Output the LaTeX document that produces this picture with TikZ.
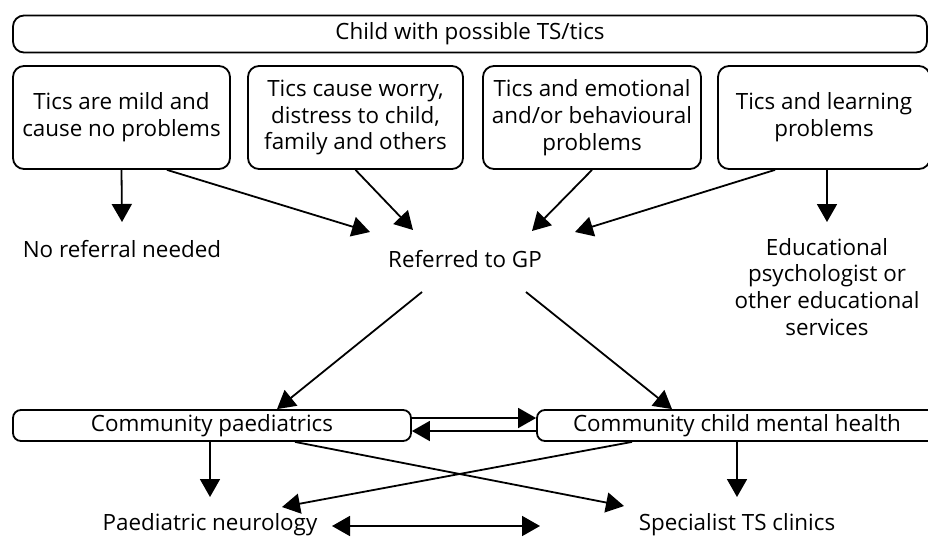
\documentclass[tikz,border=0pt]{standalone}
\usepackage{fontspec}
\setmainfont{Open Sans}
\usetikzlibrary{arrows.meta,positioning}

\begin{document}
\begin{tikzpicture}[x=1pt, y=-1pt,
  box/.style={rectangle, rounded corners=11pt, draw, line width=1.8pt,
              align=center, inner sep=0pt, font=\fontsize{22.4}{26.7}\selectfont},
  flat/.style={rectangle, rounded corners=8pt, draw, line width=1.8pt,
               inner sep=0pt, minimum height=31pt, font=\fontsize{22.4}{26.7}\selectfont},
  txt/.style={align=center, inner sep=0pt, font=\fontsize{22.4}{26.7}\selectfont},
  arr/.style={line width=1.8pt, -{Triangle[length=18pt,width=20pt]}},
  arrs/.style={line width=1.8pt, {Triangle[length=18pt,width=20pt]}-{Triangle[length=18pt,width=20pt]}}]
\useasboundingbox (0,0) rectangle (928,536);
\node[box, minimum width=914pt, minimum height=37pt] (child) at (470,34)
  {Child with possible TS/tics};
\node[box, minimum width=217pt, minimum height=103pt] (mild) at (121.5,117.5)
  {Tics are mild and\\cause no problems};
\node[box, minimum width=215pt, minimum height=103pt] (worry) at (355.5,117.5)
  {Tics cause worry,\\distress to child,\\family and others};
\node[box, minimum width=218pt, minimum height=103pt] (emot) at (592,117.5)
  {Tics and emotional\\and/or behavioural\\problems};
\node[box, minimum width=212pt, minimum height=103pt] (learn) at (824,117.5)
  {Tics and learning\\problems};
\node[txt, anchor=base] (noref) at (122,257) {No referral needed};
\node[txt, anchor=base] (gp) at (465,267) {Referred to GP};
\node[txt, anchor=north] (educ) at (827,238)
  {Educational\\psychologist or\\other educational\\services};
\node[flat, minimum width=398pt] (cp) at (212,425.5) {Community paediatrics};
\node[flat, minimum width=400pt] (cm) at (737,425.5) {Community child mental health};
\node[txt, anchor=base] (pn) at (210,530) {Paediatric neurology};
\node[txt, anchor=base] (stc) at (737,530) {Specialist TS clinics};
% into the GP
\draw[arr] (mild.south) -- ([yshift=35pt]noref.base);
\draw[arr] ([xshift=45.5pt]mild.south) -- ([shift={(-95,-35)}]gp.base);
\draw[arr] (worry.south) -- ([shift={(-52,-37)}]gp.base);
\draw[arr] (emot.south) -- ([shift={(67,-36)}]gp.base);
\draw[arr] ([xshift=-49pt]learn.south) -- ([shift={(110,-35)}]gp.base);
\draw[arr] ([xshift=3pt]learn.south) -- ([yshift=16pt]educ.north);
% out of the GP
\draw[arr] ([shift={(-43,25)}]gp.base) -- ([xshift=65pt]cp.north);
\draw[arr] ([shift={(61,25)}]gp.base) -- ([xshift=-65pt]cm.north);
\draw[arr] ([yshift=7.5pt]cp.east) -- ([yshift=7.5pt]cm.west);
\draw[arr] ([yshift=-5.5pt]cm.west) -- ([yshift=-5.5pt]cp.east);
% onward referrals
\draw[arr] ([xshift=-2pt]cp.south) -- ([yshift=33pt]pn.base);
\draw[arr] (cm.south) -- ([yshift=33pt]stc.base);
\draw[arr] ([xshift=83pt]cp.south) -- ([shift={(-113,-24)}]stc.base);
\draw[arr] ([xshift=-105pt]cm.south) -- ([shift={(72,-23)}]pn.base);
\draw[arrs] ([shift={(122,-4)}]pn.base) -- ([shift={(-197,-4)}]stc.base);
\end{tikzpicture}
\end{document}
